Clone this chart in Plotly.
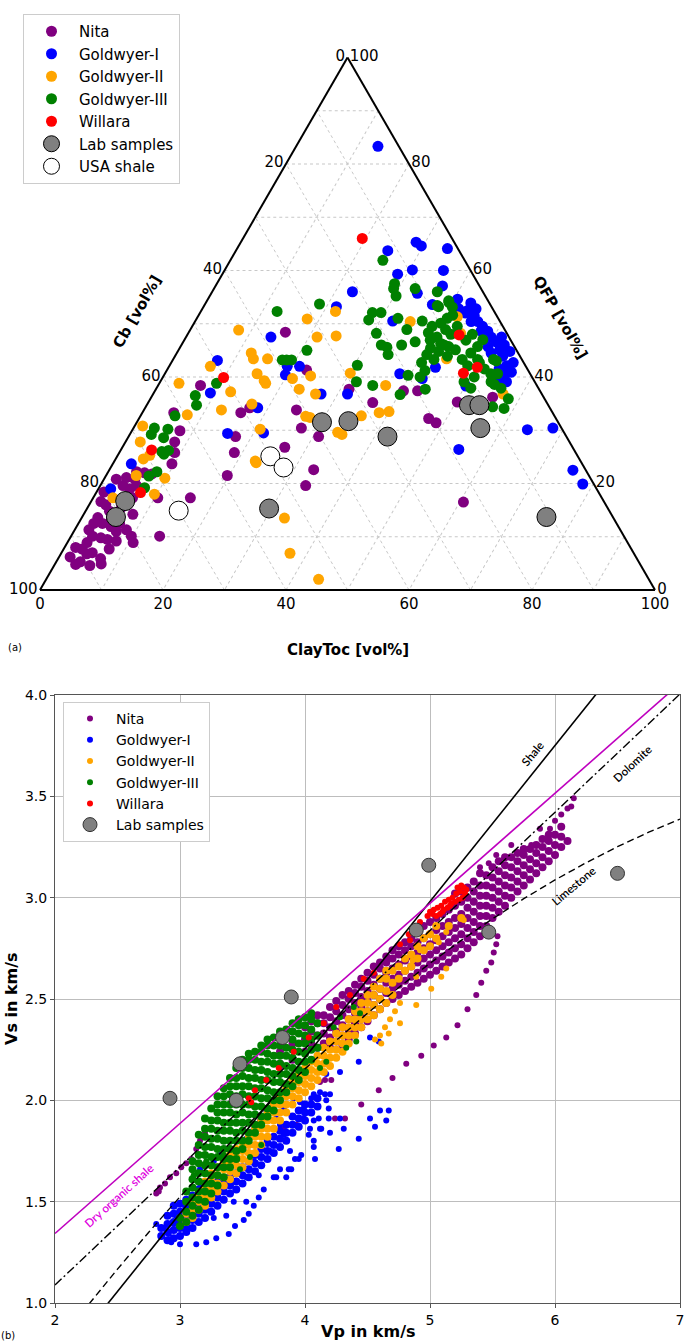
import plotly.graph_objects as go

# ---------------- Panel (a): ternary data, pairs of (QFP, ClayToc) in vol%; Cb = 100 - QFP - ClayToc
NITA_T = [(48.4,15.7),(41.3,22.7),(38.4,6.9),(37.7,31.4),(35.2,36.5),(34.2,17.0),(33.3,16.0),(33.8,24.8),
          (33.3,5.1),(30.4,27.3),(28.8,30.9),(28.8,17.4),(25.8,18.7),(26.8,26.4),(21.5,19.7),(22.6,33.2),
          (19.6,33.4),(17.3,15.8),(10.1,14.4),(29.9,7.8),(27.8,8.0),(25.8,9.0),(23.7,9.6),(22.0,6.0),
          (22.2,4.6),(21.8,7.3),(17.3,10.5),(20.8,2.0),(21.1,3.5),(20.8,5.0),(18.4,1.2),(16.6,1.6),
          (14.8,3.9),(13.6,2.6),(12.5,2.5),(12.5,3.9),(11.3,2.3),(10.1,3.5),(8.9,3.2),(7.7,3.0),(8.0,1.8),
          (6.2,1.8),(5.3,3.9),(5.9,6.9),(7.7,7.4),(9.2,7.8),(9.5,6.2),(11.0,6.9),(11.3,8.4),(14.2,8.0),
          (10.1,9.8),(8.9,10.7),(11.9,5.6),(12.5,6.7),(16.0,2.7),(19.6,3.7),(19.0,5.1),(19.6,5.9),
          (17.5,5.3),(17.3,6.4),(4.8,3.4),(4.6,5.8),(4.9,7.5),(15.5,5.5),(13.2,5.0),(9.8,5.0),(7.0,5.0),
          (6.8,4.2),(37.4,40.4),(37.4,42.7),(32.2,47.1),(31.4,48.7),(35.3,50.2),(36.2,55.5),(16.5,60.6)]
GI_T = [(83.3,13.3),(63.7,24.7),(59.3,28.5),(56.0,22.8),(53.2,21.6),(50.5,32.1),(47.5,13.8),(42.0,19.2),
        (42.0,21.2),(40.4,19.7),(43.1,7.3),(37.0,9.2),(36.8,27.3),(36.8,31.6),(34.2,18.3),(29.4,15.8),
        (29.5,21.6),(23.7,3.0),(19.0,2.0),(65.3,28.5),(64.6,29.7),(64.1,34.2),(60.1,30.5),(60.0,35.6),
        (55.7,33.5),(57.1,36.9),(53.6,37.0),(54.6,40.6),(53.9,43.1),(52.5,43.3),(52.8,44.5),(52.8,41.7),
        (51.6,44.8),(50.4,46.0),(49.5,47.2),(48.6,48.5),(48.6,47.4),(47.5,49.6),(46.6,50.9),(47.5,51.3),
        (46.0,52.5),(45.1,52.2),(43.9,53.3),(44.8,54.0),(42.7,55.6),(42.1,54.8),(41.5,53.9),(40.9,56.2),
        (40.6,55.2),(39.7,54.9),(39.1,56.3),(38.7,55.1),(52.0,43.2),(50.4,44.9),(45.7,50.0),(44.5,51.1),
        (30.1,64.2),(30.4,68.2),(26.4,54.9),(22.5,75.4),(19.9,78.3),(41.8,43.4),(40.6,38.2),(39.7,42.3),
        (38.3,50.1)]
GII_T = [(52.3,21.9),(50.9,18.0),(48.8,7.9),(47.5,21.3),(47.7,24.3),(44.5,12.1),(43.4,13.0),(43.4,15.3),
         (40.2,23.9),(39.7,21.2),(40.6,15.0),(39.3,16.8),(38.8,17.3),(42.0,6.7),(38.8,3.2),(37.7,23.3),
         (36.8,26.4),(40.7,30.1),(38.4,37.0),(33.5,40.0),(34.9,17.0),(33.8,12.6),(32.9,7.5),(32.6,26.9),
         (32.4,27.7),(29.6,33.6),(29.2,34.5),(32.7,35.9),(30.2,20.7),(24.2,22.9),(23.9,23.2),(13.5,33.0),
         (6.9,37.2),(2.0,44.3),(30.8,1.3),(27.8,2.4),(24.6,4.5),(25.3,5.2),(21.5,4.9),(21.0,9.8),
         (18.0,9.6),(17.3,3.2),(50.4,35.0),(51.3,42.2),(43.4,44.4),(33.3,38.5),(36.8,56.9),(48.2,44.3),
         (37.2,12.4)]
GIII_T = [(61.9,24.8),(57.5,28.9),(53.7,18.6),(52.3,12.4),(45.0,20.9),(43.2,17.8),(43.2,18.5),(43.2,19.3),
          (39.1,31.9),(42.2,30.5),(38.4,34.9),(38.8,9.3),(36.5,7.0),(34.7,8.1),(32.7,5.6),(30.4,3.4),
          (30.2,5.7),(29.2,3.5),(28.6,5.8),(26.0,6.8),(25.5,7.4),(26.2,7.8),(22.2,7.9),(21.4,7.0),(19.2,7.4),
          (56.6,29.2),(55.2,30.3),(56.6,32.7),(56.0,36.6),(53.2,38.2),(54.3,39.3),(52.1,28.0),(52.1,29.4),
          (50.7,28.1),(51.0,32.7),(48.2,30.6),(48.9,35.2),(46.0,35.8),(46.0,32.5),(45.6,33.6),(44.2,34.5),
          (46.6,37.7),(50.5,36.9),(49.5,39.0),(47.5,40.8),(46.3,42.0),(45.4,40.8),(44.2,40.8),(43.3,42.4),
          (42.7,40.7),(41.2,42.0),(40.0,41.8),(37.7,43.8),(40.3,39.7),(36.7,40.2),(48.9,41.5),(48.0,42.8),
          (45.7,43.6),(43.9,44.3),(45.1,45.0),(46.9,45.8),(44.5,47.8),(43.3,47.0),(42.1,48.5),(43.3,49.5),
          (47.0,48.5),(40.0,50.6),(39.1,49.4),(37.9,51.1),(40.6,53.0),(40.6,54.1),(38.6,54.6),(43.0,52.7),
          (43.3,52.1),(35.9,58.2),(34.1,58.4),(34.4,56.4),(49.5,43.1),(51.0,40.7),(53.1,40.5),(54.0,39.5),
          (53.4,37.9),(48.3,39.0),(44.8,42.4),(46.0,42.7),(46.9,40.0),(50.1,40.1),(51.6,41.3),(48.0,46.3),
          (45.7,48.3),(39.1,53.8),(37.9,56.0),(42.7,50.1),(41.5,51.5)]
WILLARA_T = [(66.0,19.4),(39.9,9.9),(26.3,5.0),(18.3,7.2),(47.9,44.2),(41.8,50.2),(40.7,48.5)]
LAB_T = [(31.5,30.1),(31.7,34.3),(28.8,42.1),(15.3,29.6),(16.7,5.5),(13.7,5.5),(34.7,52.4),(34.7,54.1),
         (30.4,56.4),(13.7,75.5)]
USA_T = [(25.1,24.9),(23.0,28.1),(14.9,15.1)]

TERN_TICKS = [0, 10, 20, 30, 40, 50, 60, 70, 80, 90, 100]

# ---------------- Panel (b): Vp / Vs in km/s (dense clouds grouped as Vp -> list of Vs)
NITA_COLS = {
    3.80: [2.18, 2.24], 3.90: [2.20, 2.28, 2.34], 4.00: [2.24, 2.30, 2.36], 4.05: [2.28, 2.34, 2.39],
    4.10: [2.26, 2.32, 2.38, 2.42], 4.15: [2.28, 2.33, 2.38, 2.42], 4.20: [2.26, 2.31, 2.36, 2.41, 2.46],
    4.25: [2.29, 2.34, 2.39, 2.44, 2.49], 4.30: [2.27, 2.32, 2.37, 2.42, 2.47, 2.52],
    4.35: [2.30, 2.35, 2.40, 2.45, 2.50, 2.54], 4.40: [2.33, 2.38, 2.43, 2.48, 2.53, 2.57],
    4.45: [2.36, 2.41, 2.46, 2.51, 2.56, 2.60], 4.50: [2.39, 2.44, 2.49, 2.54, 2.59, 2.63],
    4.55: [2.42, 2.47, 2.52, 2.57, 2.62, 2.66], 4.60: [2.45, 2.50, 2.55, 2.60, 2.65, 2.68],
    4.65: [2.48, 2.53, 2.58, 2.63, 2.68, 2.71], 4.70: [2.50, 2.55, 2.60, 2.65, 2.70, 2.74],
    4.75: [2.52, 2.57, 2.62, 2.67, 2.72, 2.76], 4.80: [2.54, 2.59, 2.64, 2.69, 2.74, 2.78],
    4.85: [2.56, 2.61, 2.66, 2.71, 2.76, 2.80], 4.90: [2.58, 2.63, 2.68, 2.73, 2.78, 2.83],
    4.95: [2.60, 2.65, 2.70, 2.75, 2.80, 2.86], 5.00: [2.62, 2.67, 2.72, 2.77, 2.82, 2.88],
    5.05: [2.64, 2.69, 2.74, 2.79, 2.84, 2.90], 5.10: [2.66, 2.71, 2.76, 2.81, 2.86, 2.92],
    5.15: [2.68, 2.73, 2.78, 2.83, 2.88, 2.94], 5.20: [2.70, 2.75, 2.80, 2.85, 2.90, 2.96, 3.02],
    5.25: [2.72, 2.77, 2.82, 2.87, 2.92, 2.98, 3.03], 5.30: [2.75, 2.80, 2.85, 2.90, 2.95, 3.00, 3.05],
    5.35: [2.78, 2.83, 2.88, 2.93, 2.98, 3.03, 3.08], 5.40: [2.81, 2.86, 2.91, 2.96, 3.01, 3.06, 3.12],
    5.45: [2.86, 2.91, 2.96, 3.01, 3.06, 3.11], 5.50: [2.90, 2.95, 3.00, 3.05, 3.10, 3.15],
    5.55: [2.93, 2.98, 3.03, 3.08, 3.13, 3.18], 5.60: [2.96, 3.01, 3.06, 3.11, 3.16, 3.20],
    5.65: [3.00, 3.05, 3.10, 3.15, 3.20], 5.70: [3.03, 3.08, 3.13, 3.18, 3.22],
    5.75: [3.06, 3.11, 3.16, 3.21, 3.24], 5.80: [3.09, 3.14, 3.19, 3.24], 5.85: [3.12, 3.17, 3.22, 3.26],
    5.90: [3.15, 3.20, 3.25, 3.29], 5.95: [3.18, 3.23, 3.28, 3.31], 6.00: [3.21, 3.26, 3.31],
    6.05: [3.25, 3.30, 3.35], 6.10: [3.28],
}
NITA_SPARSE = [(2.81,1.54),(2.83,1.55),(2.84,1.57),(2.88,1.59),(2.92,1.62),(2.97,1.64),(3.01,1.67),(3.05,1.69),
               (3.09,1.71),(3.13,1.76),(3.16,1.80),(3.17,1.82),(3.20,1.84),(4.24,1.91),(4.32,1.91),(4.45,1.98),
               (4.59,2.05),(4.70,2.11),(4.81,2.18),(4.93,2.22),(5.03,2.27),(5.13,2.31),(5.22,2.37),(5.30,2.45),
               (5.37,2.52),(5.41,2.58),(5.45,2.64),(5.49,2.68),(5.51,2.73),(5.53,2.77),(5.54,2.81),(4.16,2.10),
               (4.21,2.10),(4.12,2.09),(3.83,1.86),(3.93,1.88),(3.80,2.16),(5.53,3.21),(5.65,3.26),(5.81,3.26),
               (5.88,3.34),(5.96,3.34),(6.05,3.41),(6.13,3.45),(6.15,3.49),(6.10,3.44),(6.00,3.38),(5.40,3.15),
               (5.47,3.17)]
GI_COLS = {
    2.85: [1.33, 1.37], 2.90: [1.31, 1.35, 1.39, 1.43], 2.95: [1.32, 1.36, 1.40, 1.44, 1.48],
    3.00: [1.33, 1.37, 1.41, 1.45, 1.49], 3.05: [1.35, 1.39, 1.43, 1.47, 1.51],
    3.10: [1.37, 1.41, 1.45, 1.49, 1.53], 3.15: [1.40, 1.44, 1.48, 1.52, 1.56], 3.20: [1.42, 1.46, 1.50, 1.54],
    3.25: [1.45, 1.49, 1.53, 1.57], 3.30: [1.48, 1.52, 1.56, 1.60], 3.35: [1.51, 1.55, 1.59],
    3.40: [1.54, 1.58, 1.62], 3.45: [1.56, 1.60, 1.64], 3.50: [1.59, 1.63, 1.67], 3.55: [1.62, 1.66, 1.70],
    3.60: [1.65, 1.69, 1.73], 3.65: [1.68, 1.72, 1.76], 3.70: [1.71, 1.75, 1.79], 3.75: [1.74, 1.78, 1.82],
    3.80: [1.77, 1.81, 1.85], 3.85: [1.80, 1.84, 1.88], 3.90: [1.84, 1.88, 1.92], 3.95: [1.87, 1.91, 1.95],
    4.00: [1.90, 1.94, 1.98], 4.05: [1.94, 1.98], 4.10: [1.97, 2.01],
}
GI_SPARSE = [(3.13,1.29),(3.00,1.29),(2.93,1.30),(3.21,1.30),(3.29,1.32),(3.39,1.34),(3.44,1.38),(3.51,1.41),
             (3.55,1.44),(3.59,1.48),(3.63,1.52),(3.53,1.50),(3.67,1.56),(3.63,1.63),(3.75,1.62),(3.80,1.66),
             (3.87,1.66),(3.92,1.71),(3.97,1.73),(3.88,1.75),(4.07,1.80),(4.08,1.71),(4.04,1.86),(4.12,1.86),
             (4.11,1.91),(4.20,1.84),(4.27,1.76),(4.19,1.96),(4.16,2.03),(3.27,1.42),(3.37,1.43),(3.43,1.50),
             (3.29,1.52),(3.43,1.60),(3.53,1.62),(3.59,1.70),(3.72,1.75),(3.69,1.81),(3.83,1.83),(3.91,1.88),
             (3.80,1.88),(3.99,1.91),(4.52,2.31),(4.59,2.29),(4.43,2.19),(4.28,2.14),(4.17,2.13),(4.07,2.03),
             (3.99,1.96),(4.17,2.00),(4.19,1.91),(4.28,1.91),(4.31,1.86),(4.52,1.91),(4.60,1.95),(4.67,1.95),
             (4.65,1.90),(4.56,1.87),(4.43,1.81),(4.07,1.77),(4.03,1.83),(3.95,1.71),(3.89,1.66),(3.85,1.62),
             (3.77,1.62),(4.13,1.86),(4.07,1.90),(4.20,2.03),(4.12,2.04),(4.05,2.01),(3.05,1.37),(3.16,1.57),
             (3.16,1.66),(3.21,1.60),(3.27,1.70),(3.32,1.73),(3.37,1.76),(3.43,1.80),(3.48,1.75),(3.53,1.81),
             (3.59,1.86),(3.64,1.90),(3.69,1.95),(3.77,1.91),(3.83,1.96),(3.91,2.01),(3.96,1.99),(2.87,1.37),
             (2.81,1.39),(2.91,1.34),(2.95,1.39),(2.97,1.43)]
GII_COLS = {
    3.05: [1.40, 1.44], 3.10: [1.42, 1.46, 1.50], 3.15: [1.46, 1.50, 1.54], 3.20: [1.48, 1.52, 1.56, 1.60],
    3.25: [1.52, 1.56, 1.60, 1.64], 3.30: [1.55, 1.59, 1.63, 1.67], 3.35: [1.58, 1.62, 1.66, 1.70],
    3.40: [1.61, 1.65, 1.69, 1.73], 3.45: [1.64, 1.68, 1.72, 1.76], 3.50: [1.67, 1.71, 1.75, 1.79],
    3.55: [1.70, 1.74, 1.78, 1.82], 3.60: [1.74, 1.78, 1.82, 1.86], 3.65: [1.78, 1.82, 1.86, 1.90],
    3.70: [1.82, 1.86, 1.90, 1.94], 3.75: [1.86, 1.90, 1.94, 1.98], 3.80: [1.90, 1.94, 1.98, 2.02],
    3.85: [1.94, 1.98, 2.02, 2.06], 3.90: [1.98, 2.02, 2.06, 2.10], 3.95: [2.01, 2.05, 2.09, 2.13],
    4.00: [2.04, 2.08, 2.12, 2.16], 4.05: [2.07, 2.11, 2.15, 2.19], 4.10: [2.10, 2.14, 2.18, 2.22],
    4.15: [2.14, 2.18, 2.22, 2.26], 4.20: [2.17, 2.21, 2.25, 2.29], 4.25: [2.21, 2.25, 2.29, 2.33],
    4.30: [2.24, 2.28, 2.32, 2.36], 4.35: [2.28, 2.32, 2.36, 2.40], 4.40: [2.32, 2.36, 2.40, 2.44],
    4.45: [2.36, 2.40, 2.44, 2.48], 4.50: [2.40, 2.44, 2.48, 2.52], 4.55: [2.42, 2.47, 2.52, 2.56],
    4.60: [2.45, 2.50, 2.55, 2.60], 4.65: [2.48, 2.54, 2.60, 2.64], 4.70: [2.52, 2.58, 2.64],
    4.75: [2.60, 2.66], 4.80: [2.64, 2.70], 4.85: [2.66, 2.72], 4.90: [2.70, 2.76], 4.95: [2.74, 2.80],
    5.00: [2.76, 2.82], 5.05: [2.80, 2.86], 5.15: [2.86], 5.25: [2.90],
}
GII_SPARSE = [(4.76,2.48),(4.72,2.44),(4.68,2.40),(4.64,2.36),(4.60,2.32),(4.56,2.30),(4.89,2.47),(5.01,2.55),
              (5.09,2.61),(5.13,2.65),(4.76,2.38),(4.67,2.33),(4.61,2.28),(5.27,2.89),(5.13,2.83),(5.07,2.78),
              (4.92,2.74),(4.86,2.69),(4.89,2.61)]
GIII_COLS = {
    3.00: [1.38, 1.42], 3.05: [1.40, 1.45, 1.50, 1.55],
    3.10: [1.43, 1.48, 1.52, 1.57, 1.61, 1.66, 1.70],
    3.15: [1.46, 1.51, 1.55, 1.60, 1.64, 1.69, 1.73, 1.78, 1.83],
    3.20: [1.50, 1.55, 1.59, 1.64, 1.68, 1.73, 1.77, 1.82, 1.86, 1.91],
    3.25: [1.54, 1.59, 1.63, 1.68, 1.72, 1.77, 1.81, 1.86, 1.90, 1.96],
    3.30: [1.58, 1.63, 1.67, 1.72, 1.76, 1.81, 1.85, 1.90, 1.94, 1.98, 2.02],
    3.35: [1.62, 1.67, 1.71, 1.76, 1.80, 1.85, 1.89, 1.94, 1.98, 2.02, 2.06],
    3.40: [1.67, 1.71, 1.76, 1.80, 1.85, 1.89, 1.94, 1.98, 2.03, 2.07, 2.11],
    3.45: [1.71, 1.75, 1.80, 1.84, 1.89, 1.93, 1.98, 2.02, 2.07, 2.11, 2.16],
    3.50: [1.76, 1.80, 1.85, 1.89, 1.94, 1.98, 2.03, 2.07, 2.12, 2.16, 2.20],
    3.55: [1.80, 1.84, 1.89, 1.93, 1.98, 2.02, 2.07, 2.11, 2.16, 2.20, 2.23],
    3.60: [1.84, 1.88, 1.93, 1.97, 2.02, 2.06, 2.11, 2.15, 2.20, 2.24],
    3.65: [1.88, 1.92, 1.97, 2.01, 2.06, 2.10, 2.15, 2.19, 2.24, 2.27],
    3.70: [1.92, 1.96, 2.01, 2.05, 2.10, 2.14, 2.19, 2.23, 2.27, 2.30],
    3.75: [1.95, 2.00, 2.04, 2.09, 2.13, 2.18, 2.22, 2.27, 2.31],
    3.80: [2.00, 2.04, 2.09, 2.13, 2.18, 2.22, 2.27, 2.31, 2.34],
    3.85: [2.04, 2.08, 2.13, 2.17, 2.22, 2.26, 2.31, 2.35],
    3.90: [2.07, 2.12, 2.16, 2.21, 2.25, 2.30, 2.34, 2.38],
    3.95: [2.10, 2.15, 2.19, 2.24, 2.28, 2.33, 2.37, 2.40],
    4.00: [2.14, 2.19, 2.23, 2.28, 2.32, 2.37, 2.41],
    4.05: [2.20, 2.25, 2.30, 2.35, 2.40, 2.43], 4.10: [2.26, 2.32, 2.38],
}
GIII_SPARSE = [(4.23,2.36),(4.28,2.41),(4.39,2.46),(4.44,2.43),(4.41,2.29),(4.33,2.26),(4.17,2.19),(4.12,2.16),
               (3.11,1.63),(3.21,1.70),(3.35,1.73),(3.48,1.66),(3.56,1.72),(3.65,1.78)]
WILLARA_B = [(3.55,2.01),(3.57,1.99),(3.60,2.05),(3.69,2.10),(3.79,2.16),(3.91,2.24),(4.03,2.31),(4.15,2.38),
             (4.25,2.46),(4.36,2.52),(4.47,2.60),(4.55,2.63),(4.76,2.77),(4.83,2.82),(4.92,2.88),(4.84,2.79),
             (4.98,2.91),(5.00,2.93),(5.02,2.92),(5.03,2.94),(5.05,2.91),(5.06,2.95),(5.08,2.92),(5.09,2.96),
             (5.11,2.94),(5.12,2.98),(5.14,2.95),(5.15,2.99),(5.17,2.97),(5.18,3.00),(5.20,2.98),(5.21,3.02),
             (5.23,2.99),(5.24,3.03),(5.26,3.00),(5.27,3.05),(5.28,3.02),(5.25,3.06),(5.22,3.05),(5.29,3.04),
             (5.10,2.93),(5.16,2.96)]
LAB_VP = [2.92, 3.45, 3.48, 3.82, 3.89, 4.89, 4.99, 5.47, 6.50]
LAB_VS = [2.01, 2.00, 2.18, 2.31, 2.51, 2.84, 3.16, 2.83, 3.12]

# Empirical Vp-Vs trend coefficients (polynomial, highest power first)
SHALE_COEF = [0.76969, -0.86735]
DOLOMITE_COEF = [0.58321, -0.07775]
LIMESTONE_COEF = [-0.05508, 1.01677, -1.03049]
DRY_ORG_COEF = [0.543, 0.257]
VP_LINE = [2.0, 2.25, 2.5, 2.75, 3.0, 3.25, 3.5, 3.75, 4.0, 4.25, 4.5, 4.75, 5.0, 5.25, 5.5, 5.75,
           6.0, 6.25, 6.5, 6.75, 7.0]

COLORS = {"Nita": "#800080", "Goldwyer-I": "#0000ff", "Goldwyer-II": "#ffa500",
          "Goldwyer-III": "#008000", "Willara": "#ff0000"}


def tern(pts):
    a = [p[0] for p in pts]
    c = [p[1] for p in pts]
    b = [round(100 - p[0] - p[1], 2) for p in pts]
    return a, b, c


def cols_to_xy(cols):
    xs, ys = [], []
    for vp, vals in cols.items():
        for v in vals:
            xs.append(vp)
            ys.append(v)
    return xs, ys


def poly(coef, x):
    y = 0.0
    for k in coef:
        y = y * x + k
    return y


fig = go.Figure()

# ---- ternary traces
for name, pts in [("Nita", NITA_T), ("Goldwyer-I", GI_T), ("Goldwyer-II", GII_T),
                  ("Goldwyer-III", GIII_T), ("Willara", WILLARA_T)]:
    a, b, c = tern(pts)
    fig.add_trace(go.Scatterternary(a=a, b=b, c=c, mode="markers", name=name, legend="legend",
                                    marker=dict(color=COLORS[name], size=11, line=dict(width=0))))
a, b, c = tern(LAB_T)
fig.add_trace(go.Scatterternary(a=a, b=b, c=c, mode="markers", name="Lab samples", legend="legend",
                                marker=dict(color="#808080", size=19, line=dict(color="black", width=1))))
a, b, c = tern(USA_T)
fig.add_trace(go.Scatterternary(a=a, b=b, c=c, mode="markers", name="USA shale", legend="legend",
                                marker=dict(color="white", size=19, line=dict(color="black", width=1))))

# ---- Vp-Vs traces (dense cloud drawn with slightly larger dots, sparse points small)
for name, cols, sparse in [("Nita", NITA_COLS, NITA_SPARSE), ("Goldwyer-I", GI_COLS, GI_SPARSE),
                           ("Goldwyer-II", GII_COLS, GII_SPARSE), ("Goldwyer-III", GIII_COLS, GIII_SPARSE),
                           ("Willara", {}, WILLARA_B)]:
    if cols:
        xs, ys = cols_to_xy(cols)
        fig.add_trace(go.Scatter(x=xs, y=ys, mode="markers", name=name, legend="legend2",
                                 legendgroup=name, showlegend=False, xaxis="x", yaxis="y",
                                 marker=dict(color=COLORS[name], size=8, line=dict(width=0))))
    fig.add_trace(go.Scatter(x=[p[0] for p in sparse], y=[p[1] for p in sparse], mode="markers",
                             name=name, legend="legend2", legendgroup=name, xaxis="x", yaxis="y",
                             marker=dict(color=COLORS[name], size=6, line=dict(width=0))))

line_specs = [(SHALE_COEF, dict(color="black", width=1.6)),
              (DOLOMITE_COEF, dict(color="black", width=1.4, dash="9px,3px,2px,3px")),
              (LIMESTONE_COEF, dict(color="black", width=1.4, dash="7px,4px")),
              (DRY_ORG_COEF, dict(color="#bf00bf", width=1.6))]
for coef, ls in line_specs:
    fig.add_trace(go.Scatter(x=VP_LINE, y=[poly(coef, v) for v in VP_LINE], mode="lines",
                             line=ls, showlegend=False, hoverinfo="skip"))

fig.add_trace(go.Scatter(x=LAB_VP, y=LAB_VS, mode="markers", name="Lab samples", legend="legend2",
                         legendgroup="Lab samples",
                         marker=dict(color="#808080", size=14, line=dict(color="#333333", width=1))))

tern_axis = dict(tickmode="array", tickvals=TERN_TICKS, ticks="", showline=True, linecolor="black",
                 linewidth=2, showgrid=True, gridcolor="#c8c8c8", gridwidth=0.8, griddash="dot",
                 tickfont=dict(size=15, color="black"), title=dict(text=""))


def tick_text():
    return [str(100 - v) if v % 20 == 0 else "" for v in TERN_TICKS]


W, H = 685, 1343
fig.update_layout(
    width=W, height=H, margin=dict(l=0, r=0, t=0, b=0, autoexpand=False),
    paper_bgcolor="white", plot_bgcolor="white",
    font=dict(family="DejaVu Sans", color="black", size=14),
    ternary=dict(domain=dict(x=[40 / W, 655 / W], y=[1 - 590 / H, 1 - 57.4 / H]), sum=100, bgcolor="white",
                 aaxis=dict(tern_axis, ticktext=tick_text()),
                 baxis=dict(tern_axis, ticktext=tick_text()),
                 caxis=dict(tern_axis, ticktext=tick_text())),
    xaxis=dict(domain=[55 / W, 680 / W], range=[2, 7], dtick=1, showgrid=True, gridcolor="#bdbdbd",
               gridwidth=1, showline=True, mirror=True, linecolor="#555555", linewidth=1,
               ticks="outside", ticklen=4, tickcolor="#555555", zeroline=False, automargin=False,
               tickfont=dict(size=14), anchor="y", title=dict(text="")),
    yaxis=dict(domain=[1 - 1303 / H, 1 - 695 / H], range=[1, 4], dtick=0.5, tickformat=".1f",
               showgrid=True, gridcolor="#bdbdbd", gridwidth=1, showline=True, mirror=True,
               linecolor="#555555", linewidth=1, ticks="outside", ticklen=4, tickcolor="#555555",
               zeroline=False, automargin=False, tickfont=dict(size=14), anchor="x", title=dict(text="")),
    legend=dict(x=23 / W, y=1 - 14 / H, xanchor="left", yanchor="top", bgcolor="white",
                bordercolor="#cccccc", borderwidth=1, font=dict(size=15), itemsizing="trace",
                itemwidth=45, tracegroupgap=0),
    legend2=dict(x=63 / W, y=1 - 702 / H, xanchor="left", yanchor="top", bgcolor="white",
                 bordercolor="#cccccc", borderwidth=1, font=dict(size=14), itemsizing="trace",
                 itemwidth=42, tracegroupgap=0),
    showlegend=True,
)

annos = [
    dict(text="<b>Cb [vol%]</b>", x=137 / W, y=1 - 312 / H, textangle=-60, font=dict(size=15)),
    dict(text="<b>QFP [vol%]</b>", x=560 / W, y=1 - 317 / H, textangle=60, font=dict(size=15)),
    dict(text="<b>ClayToc [vol%]</b>", x=348 / W, y=1 - 650 / H, font=dict(size=15)),
    dict(text="(a)", x=15 / W, y=1 - 648 / H, font=dict(size=10)),
    dict(text="(b)", x=8 / W, y=1 - 1335 / H, font=dict(size=10)),
    dict(text="<b>Vp in km/s</b>", x=368 / W, y=1 - 1331 / H, font=dict(size=16)),
    dict(text="<b>Vs in km/s</b>", x=11 / W, y=1 - 999 / H, textangle=-90, font=dict(size=16)),
]
for an in annos:
    fig.add_annotation(xref="paper", yref="paper", showarrow=False, xanchor="center", yanchor="middle", **an)

line_labels = [("Shale", 5.82, 3.71, -51, "black"), ("Dolomite", 6.62, 3.66, -43, "black"),
               ("Limestone", 6.15, 3.06, -40, "black"), ("Dry organic shale", 2.51, 1.53, -42, "#e000e0")]
for txt, xv, yv, ang, col in line_labels:
    fig.add_annotation(xref="x", yref="y", x=xv, y=yv, text=txt, showarrow=False, textangle=ang,
                       font=dict(family="Lato", size=11.5, color=col, weight=600))

fig.write_html("out.html", config={"displayModeBar": False},
               post_script="document.body.style.margin='0px';"
                           "document.documentElement.style.overflow='hidden';")
